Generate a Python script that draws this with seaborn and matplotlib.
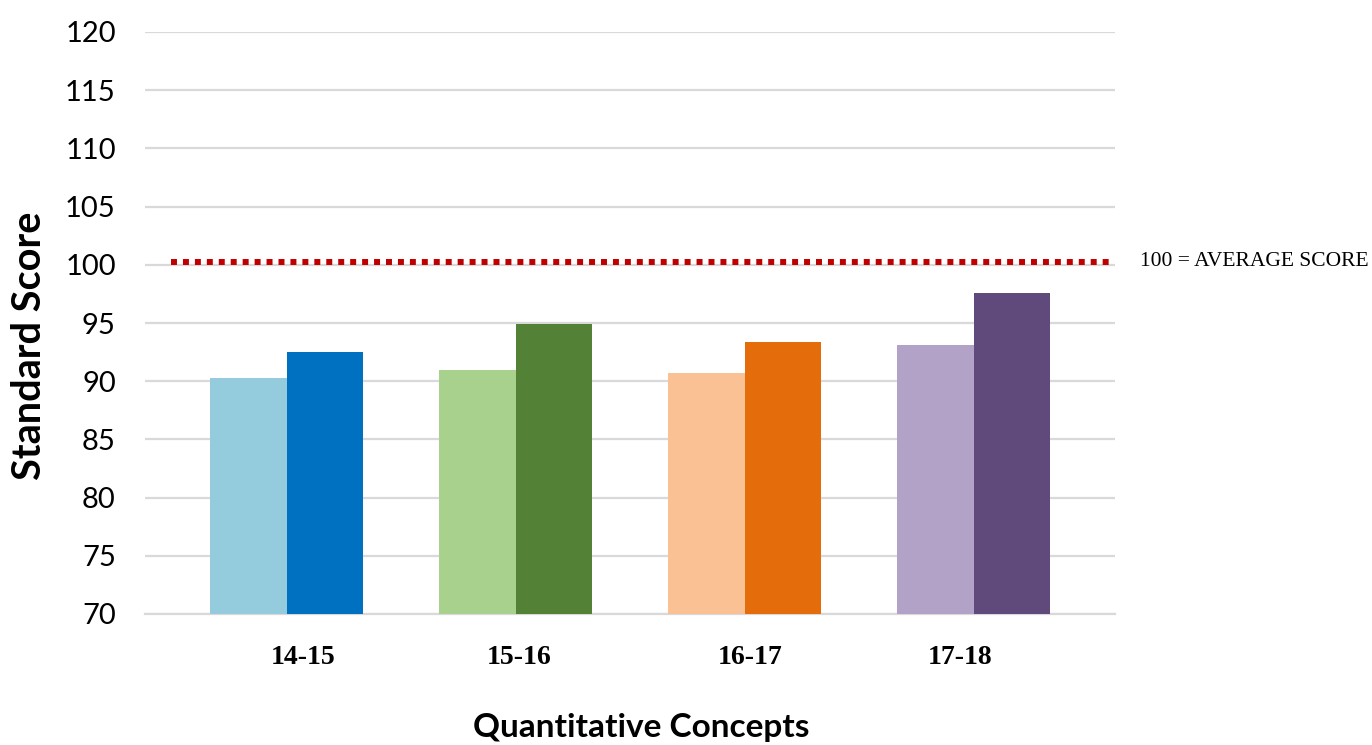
import matplotlib
matplotlib.use("Agg")
import matplotlib.pyplot as plt
import matplotlib.transforms as mtransforms
import seaborn as sns
import pandas as pd

# School-year cohorts and their two standard scores (first / second testing)
years = ["14-15", "15-16", "16-17", "17-18"]
first_scores = [90.3, 91.0, 90.7, 93.1]
second_scores = [92.5, 94.9, 93.4, 97.6]
first_colors = ["#94CBDD", "#A9D18E", "#F9C194", "#B2A2C7"]
second_colors = ["#0070C0", "#538135", "#E46C0A", "#604A7B"]
y_ticks = [70, 75, 80, 85, 90, 95, 100, 105, 110, 115, 120]
average_score = 100

df = pd.DataFrame({
    "Year": years * 2,
    "Score": first_scores + second_scores,
    "Test": ["first"] * len(years) + ["second"] * len(years),
})

sns.set_theme(style="white")
plt.rcParams["font.family"] = ["Lato", "DejaVu Sans"]
serif = ["Liberation Serif", "DejaVu Serif"]

fig = plt.figure(figsize=(13.72, 7.45), dpi=100)
ax = fig.add_axes([145 / 1372, 1 - 614 / 745, 970 / 1372, 582 / 745])

sns.barplot(data=df, x="Year", y="Score", hue="Test", order=years,
            hue_order=["first", "second"], width=0.668, gap=0,
            dodge=True, legend=False, ax=ax, saturation=1,
            linewidth=0, edgecolor="none")

# colour each bar individually (hue-major patch order)
bar_colors = first_colors + second_colors
for patch, c in zip(ax.patches, bar_colors):
    patch.set_facecolor(c)
    patch.set_zorder(3)

ax.set_ylim(70, 120)
ax.set_xlim(-0.62, 3.616)
ax.set_yticks(y_ticks)
ax.set_yticklabels([str(t) for t in y_ticks], fontsize=21, color="black")
ax.yaxis.grid(True, color="#D9D9D9", linewidth=1.6, zorder=0)
ax.set_axisbelow(True)
ax.tick_params(axis="y", length=0, pad=21)
ax.tick_params(axis="x", length=0, pad=22)

ax.set_xticks(range(len(years)))
ax.set_xticklabels(years, fontsize=20, fontweight="bold", family=serif,
                   color="black")
# slight horizontal nudges of the category labels (pixels)
for lbl, dx in zip(ax.get_xticklabels(), [16, 3, 5, -14]):
    lbl.set_transform(lbl.get_transform() +
                      mtransforms.ScaledTranslation(dx / 100, 0,
                                                    fig.dpi_scale_trans))

for side in ["top", "right", "left"]:
    ax.spines[side].set_visible(False)
ax.spines["bottom"].set_color("#D9D9D9")
ax.spines["bottom"].set_linewidth(1.6)

# average-score reference line
ax.axhline(average_score + 0.25, xmin=26 / 970, xmax=968 / 970,
           color="#C00000", linewidth=4.3, linestyle=(0, (1, 1)),
           dash_capstyle="butt", zorder=4)
fig.text(1140 / 1372, 1 - 261 / 745, "100 = AVERAGE SCORE",
         ha="left", va="center", fontsize=15.5, family=serif, color="black")

ax.set_ylabel("")
ax.set_xlabel("")
fig.text(30 / 1372, 1 - 346 / 745, "Standard Score", rotation=90,
         ha="center", va="center", fontsize=28.5, fontweight="bold",
         color="black")
fig.text(641 / 1372, 1 - 728 / 745, "Quantitative Concepts",
         ha="center", va="center", fontsize=24, fontweight="bold",
         color="black")

fig.savefig("out.png", dpi=100, facecolor="white")
